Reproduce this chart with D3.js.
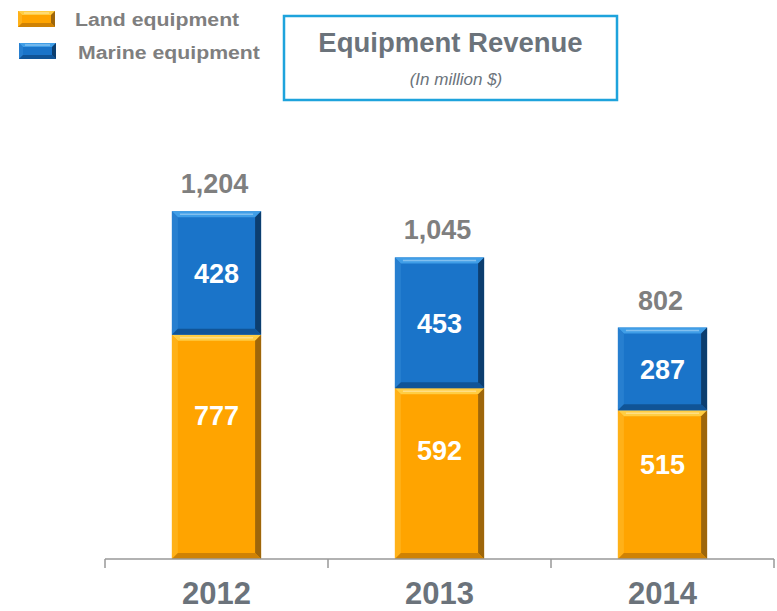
<!DOCTYPE html>
<html>
<head>
<meta charset="utf-8">
<script src="https://cdn.jsdelivr.net/npm/d3@7"></script>
<style>
  body { margin: 0; background: #fff; }
  svg { display: block; font-family: 'Liberation Sans', Arial, sans-serif; }
</style>
</head>
<body>
<div id="chart"></div>
<script>
const years = ['2012', '2013', '2014'];
const land = [777, 592, 515];
const marine = [428, 453, 287];
const totals = ['1,204', '1,045', '802'];
const seriesNames = ['Land equipment', 'Marine equipment'];

const W = 777, H = 611;
const base = 559;

const svg = d3.select('#chart')
  .append('svg')
  .attr('width', W)
  .attr('height', H);

// colour sets for the bevelled boxes
const palette = {
  land: { main: '#ffa400', top: '#ffd24a', left: '#ffb41e', right: '#8d5c0c', bottom: '#c77c05' },
  marine: { main: '#1a74c9', top: '#45a3ea', left: '#2a82d2', right: '#0b355f', bottom: '#0f4f8e' }
};

const x = d3.scaleBand().domain(years).range([105, 774]).padding(0);
const y = d3.scaleLinear().domain([0, 1204]).range([base, 211.5]);
const barW = x.bandwidth() * 0.4;

function bevelBox(g, x0, y0, w, h, c, b) {
  g.append('rect').attr('x', x0).attr('y', y0).attr('width', w).attr('height', h).attr('fill', c.main);
  const x1 = x0 + w, y1 = y0 + h;
  const poly = (pts, fill, op) => g.append('polygon')
    .attr('points', pts.map(p => p.join(',')).join(' '))
    .attr('fill', fill).attr('opacity', op);
  poly([[x0, y0], [x1, y0], [x1 - b, y0 + b], [x0 + b, y0 + b]], c.top, 0.9);
  poly([[x0, y0], [x0 + b, y0 + b], [x0 + b, y1 - b], [x0, y1]], c.left, 0.8);
  poly([[x1, y0], [x1, y1], [x1 - b, y1 - b], [x1 - b, y0 + b]], c.right, 0.85);
  poly([[x0, y1], [x0 + b, y1 - b], [x1 - b, y1 - b], [x1, y1]], c.bottom, 0.85);
  // soft highlight line under the top bevel
  g.append('line')
    .attr('x1', x0 + b + 2).attr('x2', x1 - b - 2)
    .attr('y1', y0 + b * 0.5).attr('y2', y0 + b * 0.5)
    .attr('stroke', '#fff').attr('stroke-opacity', 0.35).attr('stroke-width', 1.5);
}

// bars
const bars = svg.append('g').attr('class', 'bars');
years.forEach((yr, i) => {
  const bx = x(yr) + (x.bandwidth() - barW) / 2;
  const yLand = y(land[i]);
  const yTop = y(land[i] + marine[i]);
  bevelBox(bars, bx, yLand, barW, base - yLand, palette.land, 6);
  bevelBox(bars, bx, yTop, barW, yLand - yTop, palette.marine, 6);

  const cx = x(yr) + x.bandwidth() / 2;
  bars.append('text')
    .attr('x', cx).attr('y', (yTop + yLand) / 2 + 10)
    .attr('text-anchor', 'middle')
    .attr('font-size', 27).attr('font-weight', 'bold').attr('fill', '#fff')
    .text(marine[i]);
  bars.append('text')
    .attr('x', cx).attr('y', yLand + (base - yLand) * 0.36 + 10)
    .attr('text-anchor', 'middle')
    .attr('font-size', 27).attr('font-weight', 'bold').attr('fill', '#fff')
    .text(land[i]);
  bars.append('text')
    .attr('x', cx - 2).attr('y', yTop - 18)
    .attr('text-anchor', 'middle')
    .attr('font-size', 27).attr('font-weight', 'bold').attr('fill', '#7f7f7f')
    .text(totals[i]);
});

// axis
const axis = svg.append('g').attr('class', 'axis');
axis.append('line')
  .attr('x1', x.range()[0]).attr('x2', x.range()[1])
  .attr('y1', base).attr('y2', base)
  .attr('stroke', '#999').attr('stroke-width', 1.5);
const tickPos = years.map(d => x(d)).concat([x.range()[1]]);
axis.selectAll('.tick')
  .data(tickPos)
  .enter()
  .append('line')
  .attr('x1', d => d).attr('x2', d => d)
  .attr('y1', base).attr('y2', base + 9)
  .attr('stroke', '#999').attr('stroke-width', 1.5);
axis.selectAll('.year')
  .data(years)
  .enter()
  .append('text')
  .attr('x', d => x(d) + x.bandwidth() / 2)
  .attr('y', 604)
  .attr('text-anchor', 'middle')
  .attr('font-size', 31).attr('font-weight', 'bold').attr('fill', '#6b737b')
  .text(d => d);

// title box
const tb = svg.append('g').attr('class', 'title');
tb.append('rect')
  .attr('x', 284).attr('y', 16).attr('width', 333).attr('height', 84)
  .attr('fill', '#fff').attr('stroke', '#1ea3dc').attr('stroke-width', 2.5);
tb.append('text')
  .attr('x', 450.5).attr('y', 52)
  .attr('text-anchor', 'middle')
  .attr('font-size', 27.5).attr('font-weight', 'bold').attr('fill', '#6b737b')
  .text('Equipment Revenue');
tb.append('text')
  .attr('x', 456).attr('y', 85)
  .attr('text-anchor', 'middle')
  .attr('font-size', 17).attr('font-style', 'italic').attr('fill', '#6b737b')
  .text('(In million $)');

// legend
const legend = svg.append('g').attr('class', 'legend');
const legendItems = [
  { name: seriesNames[0], c: palette.land, sx: 18, sy: 11, tx: 75, ty: 26 },
  { name: seriesNames[1], c: palette.marine, sx: 19, sy: 43, tx: 78, ty: 59 }
];
legendItems.forEach(it => {
  bevelBox(legend, it.sx, it.sy, 37, 16, it.c, 4);
  legend.append('text')
    .attr('transform', `translate(${it.tx},${it.ty}) scale(1.12,1)`)
    .attr('font-size', 19).attr('font-weight', 'bold').attr('fill', '#7f7f7f')
    .text(it.name);
});
</script>
</body>
</html>
